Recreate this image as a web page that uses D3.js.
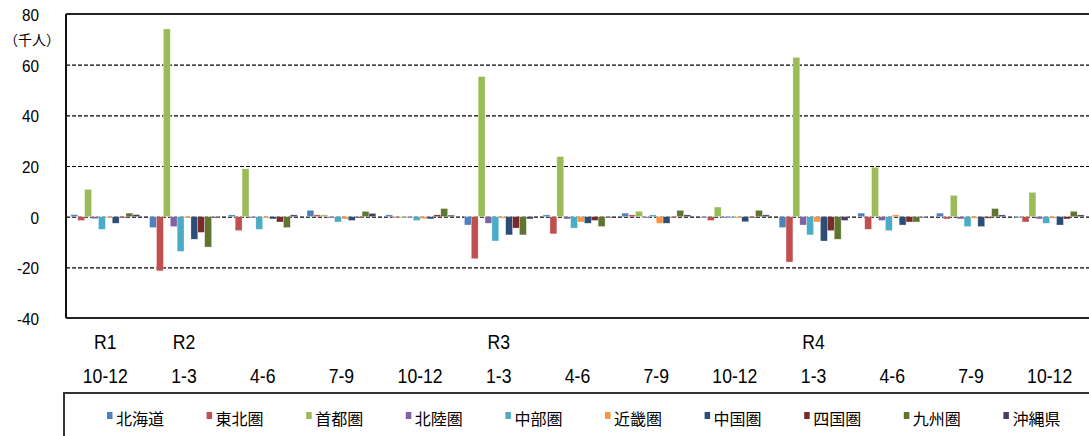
<!DOCTYPE html>
<html>
<head>
<meta charset="utf-8">
<script src="https://cdn.jsdelivr.net/npm/d3@7"></script>
<style>
  html, body { margin: 0; padding: 0; background: #fff; }
  svg { display: block; }
  .num { font-family: "Liberation Sans", Arial, sans-serif; fill: #000; }
  .jp { font-family: "Noto Sans CJK JP", sans-serif; fill: #000; }
</style>
</head>
<body>
<svg id="chart" width="1089" height="436"></svg>
<script>
// Quarter labels (era year row and month row)
const yearLabels = ["R1", "R2", "", "", "", "R3", "", "", "", "R4", "", "", ""];
const quarterLabels = ["10-12", "1-3", "4-6", "7-9", "10-12", "1-3", "4-6", "7-9", "10-12", "1-3", "4-6", "7-9", "10-12"];
const regions = ["北海道", "東北圏", "首都圏", "北陸圏", "中部圏", "近畿圏", "中国圏", "四国圏", "九州圏", "沖縄県"];
const regionColors = ["#4F81BD", "#C0504D", "#9BBB59", "#8064A2", "#4BACC6", "#F79646", "#2C4D75", "#772C2A", "#5F7530", "#4D3B62"];
const yTicks = [80, 60, 40, 20, 0, -20, -40];

// Net migration by region, thousands of people, one array per region
const hokkaido = [0.8, -4.3, 0.7, 2.5, 0.7, -3.3, 0.7, 1.4, -0.4, -4.3, 1.4, 1.4, -0.4];
const tohoku   = [-1.5, -21.4, -5.5, 0.7, -0.4, -16.6, -6.8, 0.7, -1.5, -17.9, -5.0, -0.9, -2.1];
const shuto    = [10.8, 74.1, 18.9, 0.7, -0.4, 55.3, 23.7, 2.1, 3.8, 62.9, 19.5, 8.4, 9.6];
const hokuriku = [-0.8, -3.9, -0.5, -0.5, -0.4, -2.6, -0.9, -0.5, -0.5, -3.3, -1.5, -0.9, -0.9];
const chubu    = [-5.0, -13.7, -5.0, -2.1, -1.5, -9.6, -4.5, 0.7, -0.5, -7.2, -5.5, -3.9, -2.6];
const kinki    = [-0.4, -0.5, -0.5, -0.9, -0.8, -0.6, -2.1, -2.6, -0.5, -2.1, 0.7, -0.6, -0.6];
const chugoku  = [-2.6, -8.9, -0.9, -1.5, -0.9, -7.2, -2.6, -2.6, -2.0, -9.6, -3.3, -3.9, -3.3];
const shikoku  = [-0.4, -6.2, -2.1, -0.5, 0.7, -4.5, -1.5, -0.4, -0.4, -5.5, -2.1, -0.6, -0.9];
const kyushu   = [1.4, -12.0, -4.3, 2.1, 3.2, -7.2, -3.9, 2.5, 2.5, -8.9, -2.1, 3.2, 2.1];
const okinawa  = [0.8, -0.5, 0.7, 1.3, 0.6, -0.9, -0.4, 0.7, 0.7, -1.5, -0.4, 0.7, 0.7];
const seriesValues = [hokkaido, tohoku, shuto, hokuriku, chubu, kinki, chugoku, shikoku, kyushu, okinawa];

const svg = d3.select("#chart");
const plot = { left: 66, right: 1089, top: 14, bottom: 318 };

const x0 = d3.scaleBand()
  .domain(d3.range(quarterLabels.length))
  .range([plot.left, plot.right])
  .paddingInner(0.125)
  .paddingOuter(0.0625);
const x1 = d3.scaleBand()
  .domain(d3.range(regions.length))
  .range([0, x0.bandwidth()]);
const y = d3.scaleLinear().domain([-40, 80]).range([plot.bottom, plot.top]);

// Narrow-looking text: a horizontally condensed label placed at (x, y)
function narrowText(sel, x, yPos, size, squeeze, anchor) {
  return sel.append("text")
    .attr("class", "num")
    .attr("transform", `translate(${x},${yPos}) scale(${squeeze},1)`)
    .attr("text-anchor", anchor)
    .attr("dy", "0.36em")
    .attr("font-size", size);
}

// Dashed gridlines (including zero)
svg.append("g")
  .selectAll("line")
  .data(yTicks.filter(t => t !== 80 && t !== -40))
  .join("line")
  .attr("x1", plot.left).attr("x2", plot.right)
  .attr("y1", d => y(d) + 0.5).attr("y2", d => y(d) + 0.5)
  .attr("stroke", "#000")
  .attr("stroke-width", 1.2)
  .attr("stroke-dasharray", "4,2");

// Top and bottom frame lines
svg.append("g")
  .selectAll("line")
  .data([80, -40])
  .join("line")
  .attr("x1", plot.left).attr("x2", plot.right)
  .attr("y1", d => y(d)).attr("y2", d => y(d))
  .attr("stroke", "#222")
  .attr("stroke-width", 2);

// Bars
const groups = svg.append("g")
  .selectAll("g")
  .data(seriesValues)
  .join("g")
  .attr("fill", (d, i) => regionColors[i]);

groups.selectAll("rect")
  .data((vals, si) => vals.map((v, qi) => ({ v, qi, si })))
  .join("rect")
  .attr("x", d => x0(d.qi) + x1(d.si))
  .attr("width", x1.bandwidth())
  .attr("y", d => y(Math.max(0, d.v)))
  .attr("height", d => Math.abs(y(d.v) - y(0)))
  .attr("stroke", "#fff")
  .attr("stroke-opacity", 0.6)
  .attr("stroke-width", 0.5);

// Y axis line
svg.append("line")
  .attr("x1", plot.left).attr("x2", plot.left)
  .attr("y1", plot.top).attr("y2", plot.bottom)
  .attr("stroke", "#111")
  .attr("stroke-width", 2);

// Y tick labels
const yTickG = svg.append("g");
yTicks.forEach(t => {
  narrowText(yTickG, 39, y(t) + 1, 17, 0.9, "end")
    .text(t < 0 ? "-" + Math.abs(t) : String(t));
});

// Unit label
svg.append("text")
  .attr("class", "jp")
  .attr("x", 32).attr("y", 39)
  .attr("text-anchor", "middle")
  .attr("dominant-baseline", "central")
  .attr("font-size", 14)
  .text("（千人）");

// Category labels (two rows)
const xLabelG = svg.append("g");
yearLabels.forEach((d, i) => {
  if (d) narrowText(xLabelG, x0(i) + x0.bandwidth() / 2, 341, 21, 0.84, "middle").text(d);
});
quarterLabels.forEach((d, i) => {
  narrowText(xLabelG, x0(i) + x0.bandwidth() / 2, 375, 21, 0.84, "middle").text(d);
});

// Legend box
svg.append("rect")
  .attr("x", 64).attr("y", 393)
  .attr("width", 1040).attr("height", 60)
  .attr("fill", "none")
  .attr("stroke", "#333")
  .attr("stroke-width", 2);

const legend = svg.append("g")
  .selectAll("g")
  .data(regions)
  .join("g")
  .attr("transform", (d, i) => `translate(${107 + i * 99.6},418)`);
legend.append("rect")
  .attr("x", 0).attr("y", -6)
  .attr("width", 5.5).attr("height", 7)
  .attr("fill", (d, i) => regionColors[i]);
legend.append("text")
  .attr("class", "jp")
  .attr("x", 9).attr("y", 0)
  .attr("dominant-baseline", "central")
  .attr("font-size", 16)
  .text(d => d);
</script>
</body>
</html>
